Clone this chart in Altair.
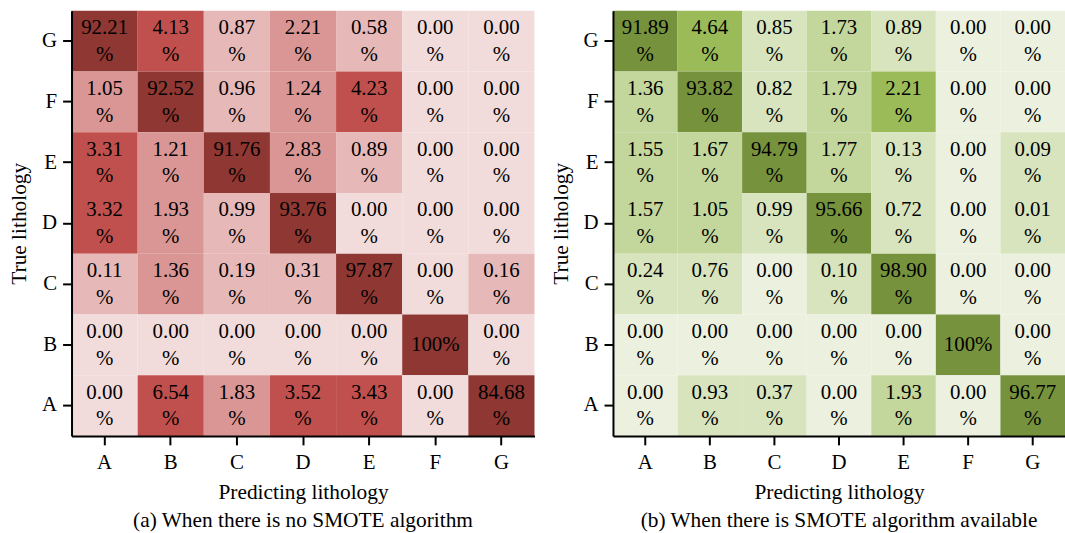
import altair as alt
import pandas as pd

classes = ["A", "B", "C", "D", "E", "F", "G"]
rows_top_to_bottom = ["G", "F", "E", "D", "C", "B", "A"]

# Panel (a): no SMOTE, rows = true lithology (G..A), columns = predicted A..G
no_smote = [
    [92.21, 4.13, 0.87, 2.21, 0.58, 0.00, 0.00],
    [1.05, 92.52, 0.96, 1.24, 4.23, 0.00, 0.00],
    [3.31, 1.21, 91.76, 2.83, 0.89, 0.00, 0.00],
    [3.32, 1.93, 0.99, 93.76, 0.00, 0.00, 0.00],
    [0.11, 1.36, 0.19, 0.31, 97.87, 0.00, 0.16],
    [0.00, 0.00, 0.00, 0.00, 0.00, 100.0, 0.00],
    [0.00, 6.54, 1.83, 3.52, 3.43, 0.00, 84.68],
]

# Panel (b): with SMOTE
with_smote = [
    [91.89, 4.64, 0.85, 1.73, 0.89, 0.00, 0.00],
    [1.36, 93.82, 0.82, 1.79, 2.21, 0.00, 0.00],
    [1.55, 1.67, 94.79, 1.77, 0.13, 0.00, 0.09],
    [1.57, 1.05, 0.99, 95.66, 0.72, 0.00, 0.01],
    [0.24, 0.76, 0.00, 0.10, 98.90, 0.00, 0.00],
    [0.00, 0.00, 0.00, 0.00, 0.00, 100.0, 0.00],
    [0.00, 0.93, 0.37, 0.00, 1.93, 0.00, 96.77],
]

red_steps = ["#F2DCDB", "#E6B9B8", "#D99694", "#C0504D", "#8F3732"]
red_breaks = [0.005, 1.0, 3.0, 50.0]
green_steps = ["#EBF1DE", "#D7E4BD", "#C3D69B", "#9BBB59", "#76923C"]
green_breaks = [0.005, 1.0, 2.0, 50.0]

FONT = "Liberation Serif, Times New Roman, serif"


def to_frame(matrix):
    recs = []
    for r, true_lab in enumerate(rows_top_to_bottom):
        for c, pred_lab in enumerate(classes):
            v = matrix[r][c]
            full = v >= 100
            recs.append({
                "true": true_lab, "pred": pred_lab, "value": v,
                "num": "100%" if full else f"{v:.2f}",
                "two": not full,
            })
    return pd.DataFrame(recs)


def panel(matrix, steps, breaks, caption, width):
    df = to_frame(matrix)
    base = alt.Chart(df).encode(
        x=alt.X("pred:N", sort=classes, title="Predicting lithology",
                scale=alt.Scale(paddingInner=0, paddingOuter=0),
                axis=alt.Axis(labelAngle=0)),
        y=alt.Y("true:N", sort=rows_top_to_bottom, title="True lithology",
                scale=alt.Scale(paddingInner=0, paddingOuter=0)),
    )
    rect = base.mark_rect().encode(
        color=alt.Color("value:Q", legend=None,
                        scale=alt.Scale(type="threshold", domain=breaks, range=steps))
    )
    tstyle = dict(font=FONT, fontSize=21, baseline="middle", color="black")
    t_num = base.transform_filter("datum.two").mark_text(dy=-13, **tstyle).encode(text="num:N")
    t_pct = base.transform_filter("datum.two").mark_text(dy=14, **tstyle).encode(text=alt.value("%"))
    t_one = base.transform_filter("!datum.two").mark_text(dy=0, **tstyle).encode(text="num:N")
    return (rect + t_num + t_pct + t_one).properties(
        width=width, height=428,
        title=alt.TitleParams(caption, orient="bottom", anchor="middle", font=FONT,
                              fontSize=21.5, fontWeight="normal", color="black", offset=7),
    )


left = panel(no_smote, red_steps, red_breaks, "(a) When there is no SMOTE algorithm", 466)
right = panel(with_smote, green_steps, green_breaks,
              "(b) When there is SMOTE algorithm available", 455)

chart = alt.hconcat(left, right, spacing=15).resolve_scale(color="independent").properties(
    padding={"left": 8, "top": 9, "right": 0, "bottom": 0}
).configure_view(strokeWidth=0).configure_axis(
    labelFont=FONT, labelFontSize=21, labelColor="black",
    titleFont=FONT, titleFontSize=21.5, titleFontWeight="normal", titleColor="black",
    tickSize=9, tickWidth=2, tickColor="black",
    domainWidth=2, domainColor="black", grid=False,
).configure_axisY(titlePadding=11, labelPadding=6).configure_axisX(titlePadding=9, labelPadding=7)

chart.save("out.html", embed_options={"renderer": "svg", "actions": False})
